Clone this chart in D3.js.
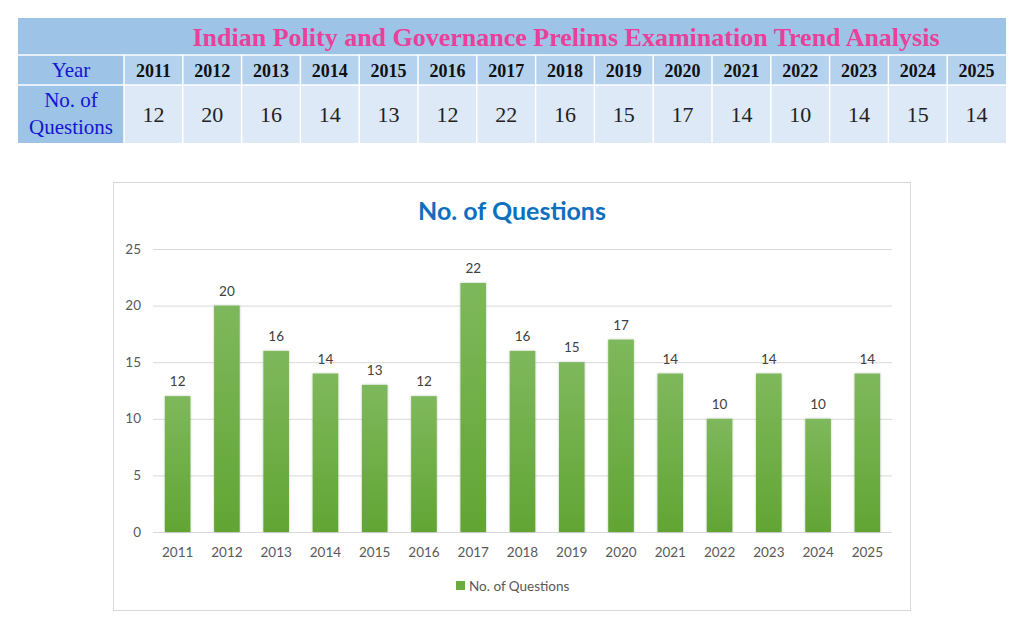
<!DOCTYPE html>
<html lang="en">
<head>
    <meta charset="UTF-8">
    <title>Indian Polity and Governance Prelims Trend</title>
    <script src="https://d3js.org/d3.v7.min.js"></script>
    <style>
        body {
            margin: 0;
            background: #ffffff;
        }
        .serif { font-family: "Liberation Serif", "DejaVu Serif", serif; }
        .sans { font-family: Lato, "Open Sans", sans-serif; }
    </style>
</head>
<body>
    <svg id="chart" width="1024" height="632"></svg>
    <script>
        // table data
        const tableTitle = "Indian Polity and Governance Prelims Examination Trend Analysis";
        const years = ["2011", "2012", "2013", "2014", "2015", "2016", "2017", "2018", "2019", "2020", "2021", "2022", "2023", "2024", "2025"];
        const tableCounts = [12, 20, 16, 14, 13, 12, 22, 16, 15, 17, 14, 10, 14, 15, 14];

        // chart data (chart shows 10 for 2024)
        const chartTitle = "No. of Questions";
        const chartCounts = [12, 20, 16, 14, 13, 12, 22, 16, 15, 17, 14, 10, 14, 10, 14];
        const yTicks = [0, 5, 10, 15, 20, 25];

        const svg = d3.select("#chart");

        // ---------- table ----------
        const tLeft = 18, tRight = 1006, labelW = 106;
        const rowTitle = [18, 55], rowYear = [55, 85], rowVal = [85, 143];

        const col = d3.scaleBand()
            .domain(years)
            .range([tLeft + labelW, tRight]);

        const table = svg.append("g");

        table.append("rect")
            .attr("x", tLeft).attr("y", rowTitle[0])
            .attr("width", tRight - tLeft).attr("height", rowTitle[1] - rowTitle[0])
            .attr("fill", "#9dc3e6");

        table.append("text")
            .attr("class", "serif")
            .attr("x", 566)
            .attr("y", 46)
            .attr("text-anchor", "middle")
            .attr("font-size", 26)
            .attr("font-weight", "bold")
            .attr("fill", "#ea3f9b")
            .text(tableTitle);

        // label column
        table.append("rect")
            .attr("x", tLeft).attr("y", rowYear[0])
            .attr("width", labelW).attr("height", rowVal[1] - rowYear[0])
            .attr("fill", "#9dc3e6");

        table.append("text")
            .attr("class", "serif")
            .attr("x", tLeft + labelW / 2).attr("y", 77)
            .attr("text-anchor", "middle")
            .attr("font-size", 21)
            .attr("fill", "#1414d6")
            .text("Year");

        table.append("text")
            .attr("class", "serif")
            .attr("text-anchor", "middle")
            .attr("font-size", 21)
            .attr("fill", "#1414d6")
            .selectAll("tspan")
            .data(["No. of", "Questions"])
            .join("tspan")
            .attr("x", tLeft + labelW / 2)
            .attr("y", (d, i) => 107 + i * 27)
            .text(d => d);

        const cells = table.selectAll(".cell")
            .data(years.map((y, i) => ({ year: y, value: tableCounts[i] })))
            .join("g")
            .attr("class", "cell");

        cells.append("rect")
            .attr("x", d => col(d.year)).attr("y", rowYear[0])
            .attr("width", col.bandwidth()).attr("height", rowYear[1] - rowYear[0])
            .attr("fill", "#b4d2ee");

        cells.append("rect")
            .attr("x", d => col(d.year)).attr("y", rowVal[0])
            .attr("width", col.bandwidth()).attr("height", rowVal[1] - rowVal[0])
            .attr("fill", "#dde9f6");

        cells.append("text")
            .attr("class", "serif")
            .attr("x", d => col(d.year) + col.bandwidth() / 2)
            .attr("y", 77)
            .attr("text-anchor", "middle")
            .attr("font-size", 18)
            .attr("font-weight", "bold")
            .attr("fill", "#111")
            .text(d => d.year);

        cells.append("text")
            .attr("class", "serif")
            .attr("x", d => col(d.year) + col.bandwidth() / 2)
            .attr("y", 122)
            .attr("text-anchor", "middle")
            .attr("font-size", 22)
            .attr("fill", "#222")
            .text(d => d.value);

        // white separators
        const sep = table.append("g").attr("stroke", "#ffffff").attr("stroke-width", 1.5);
        years.forEach(y => {
            sep.append("line")
                .attr("x1", col(y)).attr("x2", col(y))
                .attr("y1", rowYear[0]).attr("y2", rowVal[1]);
        });
        [rowYear[0], rowVal[0]].forEach(yy => {
            sep.append("line")
                .attr("x1", tLeft).attr("x2", tRight)
                .attr("y1", yy).attr("y2", yy);
        });

        // ---------- bar chart ----------
        const box = { x: 113, y: 182, w: 797, h: 428 };
        svg.append("rect")
            .attr("x", box.x + 0.5).attr("y", box.y + 0.5)
            .attr("width", box.w).attr("height", box.h)
            .attr("fill", "#ffffff")
            .attr("stroke", "#d9d9d9");

        svg.append("text")
            .attr("class", "sans")
            .attr("x", 512).attr("y", 220)
            .attr("text-anchor", "middle")
            .attr("font-size", 25)
            .attr("font-weight", "bold")
            .attr("fill", "#0e6fbe")
            .text(chartTitle);

        const plot = { left: 153, right: 892, top: 249, bottom: 532 };

        const x = d3.scaleBand()
            .domain(years)
            .range([plot.left, plot.right])
            .paddingInner(0.48)
            .paddingOuter(0.24);

        const y = d3.scaleLinear()
            .domain([0, 25])
            .range([plot.bottom, plot.top]);

        const defs = svg.append("defs");
        const grad = defs.append("linearGradient")
            .attr("id", "barGrad")
            .attr("x1", 0).attr("y1", 0).attr("x2", 0).attr("y2", 1);
        grad.append("stop").attr("offset", "0%").attr("stop-color", "#7eb85c");
        grad.append("stop").attr("offset", "100%").attr("stop-color", "#62a534");

        const shadow = defs.append("filter").attr("id", "barShadow")
            .attr("x", "-30%").attr("y", "-10%").attr("width", "160%").attr("height", "130%");
        shadow.append("feDropShadow")
            .attr("dx", 0).attr("dy", 0).attr("stdDeviation", 1.2)
            .attr("flood-color", "#000").attr("flood-opacity", 0.25);

        // gridlines
        svg.append("g")
            .attr("stroke", "#d9d9d9")
            .selectAll("line")
            .data(yTicks)
            .join("line")
            .attr("x1", plot.left).attr("x2", plot.right)
            .attr("y1", d => y(d) + 0.5).attr("y2", d => y(d) + 0.5);

        // y labels
        svg.append("g")
            .selectAll("text")
            .data(yTicks)
            .join("text")
            .attr("class", "sans")
            .attr("x", 141)
            .attr("y", d => y(d) + 4.5)
            .attr("text-anchor", "end")
            .attr("font-size", 13.5)
            .attr("fill", "#595959")
            .text(d => d);

        const chartData = years.map((yr, i) => ({ year: yr, value: chartCounts[i] }));

        svg.append("g")
            .selectAll("rect")
            .data(chartData)
            .join("rect")
            .attr("x", d => x(d.year))
            .attr("y", d => y(d.value))
            .attr("width", x.bandwidth())
            .attr("height", d => y(0) - y(d.value))
            .attr("fill", "url(#barGrad)")
            .attr("filter", "url(#barShadow)");

        // value labels
        svg.append("g")
            .selectAll("text")
            .data(chartData)
            .join("text")
            .attr("class", "sans")
            .attr("x", d => x(d.year) + x.bandwidth() / 2)
            .attr("y", d => y(d.value) - 10)
            .attr("text-anchor", "middle")
            .attr("font-size", 13.5)
            .attr("fill", "#404040")
            .text(d => d.value);

        // x labels
        svg.append("g")
            .selectAll("text")
            .data(years)
            .join("text")
            .attr("class", "sans")
            .attr("x", d => x(d) + x.bandwidth() / 2)
            .attr("y", 557)
            .attr("text-anchor", "middle")
            .attr("font-size", 13.5)
            .attr("fill", "#595959")
            .text(d => d);

        // legend
        const legend = svg.append("g").attr("transform", "translate(456,586)");
        legend.append("rect")
            .attr("x", 0).attr("y", -5)
            .attr("width", 9).attr("height", 9)
            .attr("fill", "#6aab42");
        legend.append("text")
            .attr("class", "sans")
            .attr("x", 13).attr("y", 4.5)
            .attr("font-size", 13.5)
            .attr("fill", "#595959")
            .text(chartTitle);
    </script>
</body>
</html>
